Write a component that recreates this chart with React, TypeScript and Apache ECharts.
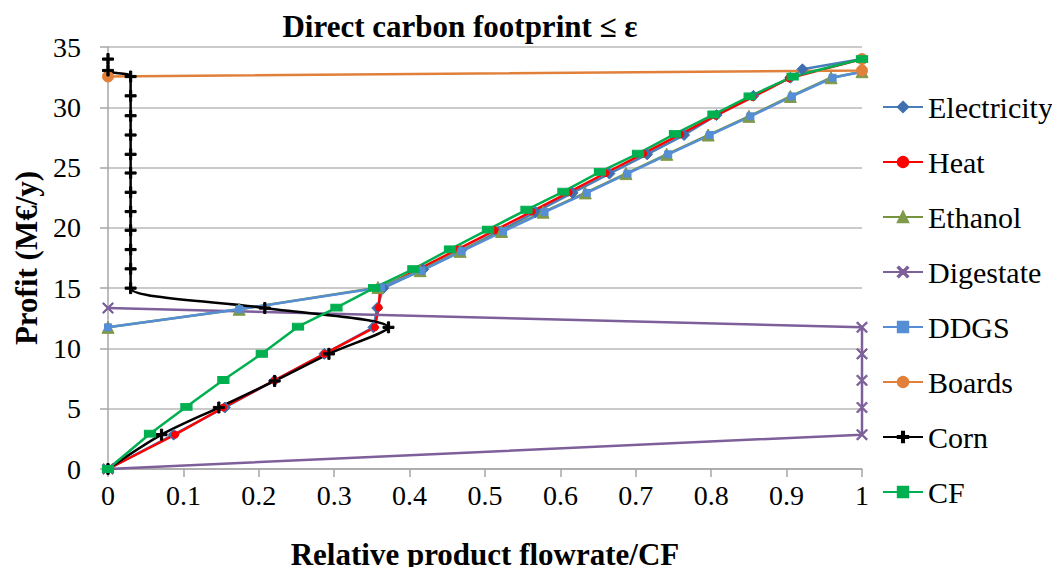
import React, { useEffect, useRef } from "react";
import * as echarts from "echarts";

// ---- Data (relative product flowrate x, profit y in M€/y) ----
const electricityX = [0, 0.087, 0.155, 0.221, 0.287, 0.352, 0.357, 0.365, 0.418, 0.468, 0.518, 0.567, 0.616, 0.665, 0.715, 0.764, 0.807, 0.856, 0.905, 0.921, 1];
const electricityY = [0, 2.85, 5.1, 7.35, 9.55, 11.75, 13.35, 15.0, 16.55, 18.1, 19.7, 21.3, 22.9, 24.5, 26.1, 27.7, 29.35, 30.95, 32.45, 33.15, 34.0];

const heatX = [0, 0.089, 0.153, 0.221, 0.287, 0.354, 0.359, 0.361, 0.413, 0.463, 0.513, 0.562, 0.611, 0.66, 0.71, 0.759, 0.806, 0.855, 0.903, 1];
const heatY = [0, 2.85, 5.1, 7.35, 9.55, 11.75, 13.4, 15.0, 16.6, 18.2, 19.8, 21.35, 22.95, 24.55, 26.15, 27.75, 29.3, 30.85, 32.4, 34.0];

const ethanolX = [0, 0.174, 0.358, 0.414, 0.467, 0.522, 0.577, 0.633, 0.687, 0.741, 0.796, 0.85, 0.905, 0.959, 1];
const ethanolY = [11.75, 13.25, 15.05, 16.45, 18.05, 19.7, 21.3, 22.9, 24.5, 26.1, 27.7, 29.25, 30.9, 32.45, 32.95];

const digestateX = [0, 1, 1, 1, 1, 1, 0];
const digestateY = [0, 2.85, 5.1, 7.35, 9.55, 11.75, 13.35];

const ddgsX = [0, 0.174, 0.362, 0.416, 0.469, 0.524, 0.579, 0.635, 0.689, 0.743, 0.798, 0.852, 0.907, 0.961, 1];
const ddgsY = [11.75, 13.25, 15.05, 16.45, 18.05, 19.7, 21.3, 22.9, 24.5, 26.1, 27.7, 29.25, 30.9, 32.45, 32.95];

const boardsX = [0, 1, 1];
const boardsY = [32.55, 33.05, 34.0];

const cornX = [0, 0.071, 0.147, 0.221, 0.293, 0.372, 0.208, 0.03, 0.03, 0.03, 0.03, 0.03, 0.03, 0.03, 0.03, 0.03, 0.03, 0.03, 0.03, 0, 0];
const cornY = [0, 2.85, 5.1, 7.3, 9.55, 11.75, 13.35, 15.0, 16.6, 18.2, 19.8, 21.35, 22.95, 24.55, 26.1, 27.7, 29.3, 30.95, 32.55, 33.05, 34.0];

const cfX = [0, 0.0557, 0.104, 0.153, 0.204, 0.252, 0.303, 0.353, 0.405, 0.4536, 0.504, 0.555, 0.604, 0.6525, 0.703, 0.752, 0.803, 0.851, 0.908, 1];
const cfY = [0, 2.93, 5.16, 7.38, 9.56, 11.8, 13.39, 15.03, 16.58, 18.22, 19.86, 21.5, 23.0, 24.65, 26.15, 27.8, 29.4, 30.9, 32.55, 34.0];

const seriesNames = ["Electricity", "Heat", "Ethanol", "Digestate", "DDGS", "Boards", "Corn", "CF"];
const yTicks = [0, 5, 10, 15, 20, 25, 30, 35];

const zip = (xs: number[], ys: number[]) => xs.map((x, i) => [x, ys[i]]);

const X_SYMBOL = "path://M1,0L5,4L9,0L10,1L6,5L10,9L9,10L5,6L1,10L0,9L4,5L0,1Z";
const PLUS_SYMBOL = "path://M4,0H6V4H10V6H6V10H4V6H0V4H4Z";

const FONT = "Liberation Serif, serif";

export default function App() {
  const ref = useRef<HTMLDivElement>(null);

  useEffect(() => {
    if (!ref.current) return;
    const chart = echarts.init(ref.current, undefined, { renderer: "svg" });

    const mk = (
      name: string,
      data: number[][],
      color: string,
      symbol: string,
      symbolSize: number | number[],
      opts: any = {}
    ) => ({
      name,
      type: "line",
      data,
      clip: false,
      symbol,
      symbolSize,
      showAllSymbol: true,
      lineStyle: { color, width: 2.5 },
      itemStyle: { color: opts.markerColor || color, borderColor: opts.markerColor || color, borderWidth: 1 },
      emphasis: { disabled: true },
      ...opts.extra,
    });

    chart.setOption({
      animation: false,
      backgroundColor: "#ffffff",
      textStyle: { fontFamily: FONT },
      title: {
        text: "Direct carbon footprint ≤ ε",
        left: 455,
        textAlign: "center",
        top: 6,
        textStyle: { fontFamily: FONT, fontSize: 31, fontWeight: "bold", color: "#000" },
      },
      legend: {
        orient: "vertical",
        left: 877,
        top: 87,
        itemWidth: 40,
        itemHeight: 13,
        itemGap: 25,
        data: seriesNames,
        textStyle: { fontFamily: FONT, fontSize: 30, color: "#000", lineHeight: 30 },
      },
      grid: { left: 108, right: 198, top: 47, bottom: 101, containLabel: false },
      xAxis: {
        type: "value",
        min: 0,
        max: 1,
        interval: 0.1,
        name: "Relative product flowrate/CF",
        nameLocation: "middle",
        nameGap: 70,
        nameTextStyle: { fontFamily: FONT, fontSize: 31, fontWeight: "bold", color: "#000" },
        axisLine: { show: true, lineStyle: { color: "#A6A6A6", width: 1.5 } },
        axisTick: { show: true, length: 8, lineStyle: { color: "#A6A6A6", width: 1.5 } },
        splitLine: { show: false },
        axisLabel: {
          fontFamily: FONT,
          fontSize: 28,
          color: "#000",
          margin: 12,
          formatter: (v: number) => String(parseFloat(v.toFixed(1))),
        },
      },
      yAxis: {
        type: "value",
        min: yTicks[0],
        max: yTicks[yTicks.length - 1],
        interval: 5,
        name: "Profit (M€/y)",
        nameLocation: "middle",
        nameGap: 65,
        nameTextStyle: { fontFamily: FONT, fontSize: 31, fontWeight: "bold", color: "#000" },
        axisLine: { show: true, lineStyle: { color: "#A6A6A6", width: 1.5 } },
        axisTick: { show: true, length: 8, lineStyle: { color: "#A6A6A6", width: 1.5 } },
        splitLine: { show: true, lineStyle: { color: "#B8B8B8", width: 1.5 } },
        axisLabel: { fontFamily: FONT, fontSize: 28, color: "#000", margin: 27 },
      },
      series: [
        mk("Electricity", zip(electricityX, electricityY), "#4A7EBB", "diamond", 11, { markerColor: "#3F6FAE" }),
        mk("Heat", zip(heatX, heatY), "#FF0000", "circle", 7),
        mk("Ethanol", zip(ethanolX, ethanolY), "#77933C", "triangle", 12, { markerColor: "#7F9A48" }),
        mk("Digestate", zip(digestateX, digestateY), "#7D5F9A", X_SYMBOL, 11),
        mk("DDGS", zip(ddgsX, ddgsY), "#558ED5", "rect", 7),
        mk("Boards", zip(boardsX, boardsY), "#E0803A", "circle", 11),
        mk("Corn", zip(cornX, cornY), "#000000", PLUS_SYMBOL, 11, { extra: { smooth: 0.3 } }),
        mk("CF", zip(cfX, cfY), "#00B050", "rect", [11, 7]),
      ],
    });

    return () => chart.dispose();
  }, []);

  return <div ref={ref} style={{ width: 1060, height: 575, margin: -8 }} />;
}
